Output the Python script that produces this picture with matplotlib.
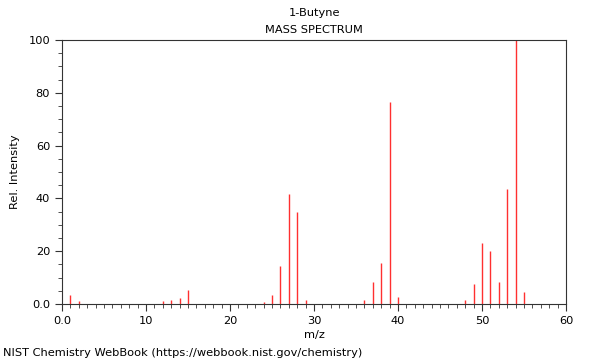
import matplotlib
matplotlib.use("Agg")
import matplotlib.pyplot as plt
from matplotlib.ticker import MultipleLocator, FixedLocator, FixedFormatter

# peaks
mz = [1, 2, 12, 13, 14, 15, 24, 25, 26, 27, 28, 29, 36, 37, 38, 39, 40,
      48, 49, 50, 51, 52, 53, 54, 55]
intensity = [3.4, 1.0, 1.1, 1.6, 2.4, 5.3, 0.6, 3.3, 14.4, 41.7, 34.8, 1.5,
             1.5, 8.5, 15.4, 76.6, 2.8, 1.5, 7.6, 23.2, 20.1, 8.2, 43.6, 100, 4.4]

x_ticks = [0, 10, 20, 30, 40, 50, 60]
x_labels = ["0.0", "10", "20", "30", "40", "50", "60"]
y_ticks = [0, 20, 40, 60, 80, 100]
y_labels = ["0.0", "20", "40", "60", "80", "100"]

fig = plt.figure(figsize=(6, 3.6), dpi=100)
ax = fig.add_axes([62 / 600, 1 - 304 / 360, 504 / 600, 264 / 360])

ax.vlines(mz, 0, intensity, colors="#ff3030", linewidth=1.0)

ax.set_xlim(0, 60)
ax.set_ylim(0, 100)
ax.xaxis.set_major_locator(FixedLocator(x_ticks))
ax.xaxis.set_major_formatter(FixedFormatter(x_labels))
ax.xaxis.set_minor_locator(MultipleLocator(1))
ax.yaxis.set_major_locator(FixedLocator(y_ticks))
ax.yaxis.set_major_formatter(FixedFormatter(y_labels))
ax.yaxis.set_minor_locator(MultipleLocator(5))

ax.tick_params(which="major", length=5, width=0.8, labelsize=8.2, colors="#333333", labelcolor="black")
ax.tick_params(which="minor", length=3, width=0.6, colors="#333333")
for s in ax.spines.values():
    s.set_color("#333333")
    s.set_linewidth(0.8)

ax.set_xlabel("m/z", fontsize=8.2, labelpad=3)
ax.set_ylabel("Rel. Intensity", fontsize=8.2, labelpad=6)

cx = 314 / 600
fig.text(cx, 1 - 13 / 360, "1-Butyne", ha="center", va="center", fontsize=8.2)
fig.text(cx, 1 - 30 / 360, "MASS SPECTRUM", ha="center", va="center", fontsize=8.2)
fig.text(3 / 600, 1 - 353 / 360, "NIST Chemistry WebBook (https://webbook.nist.gov/chemistry)",
         ha="left", va="center", fontsize=8.2)

fig.savefig("out.png", dpi=100)
